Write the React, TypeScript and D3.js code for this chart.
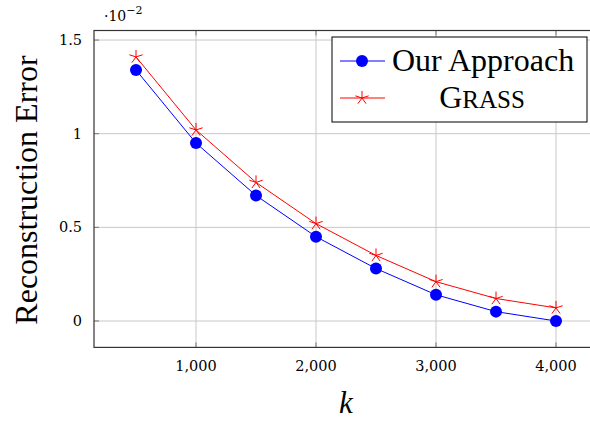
import React, { useEffect, useRef } from 'react';
import * as d3 from 'd3';

const kValues = [500, 1000, 1500, 2000, 2500, 3000, 3500, 4000];
const oursError = [1.34, 0.95, 0.67, 0.45, 0.28, 0.14, 0.05, 0.0];
const grassError = [1.41, 1.02, 0.74, 0.52, 0.35, 0.21, 0.12, 0.07];
const xTicks = [1000, 2000, 3000, 4000];
const yTicks = [0, 0.5, 1, 1.5];
const yTickLabels = ['0', '0.5', '1', '1.5'];

const width = 590;
const height = 421;
const serif = '"Liberation Serif", "DejaVu Serif", serif';
const tickFont = '"DejaVu Serif", serif';

const App = () => {
    const ref = useRef<SVGSVGElement>(null);

    useEffect(() => {
        const svg = d3.select(ref.current);
        svg.selectAll('*').remove();

        const left = 94, right = 598, top = 30.5, bottom = 347.4;

        const x = d3.scaleLinear().domain([150, 4350]).range([left, right]);
        const y = d3.scaleLinear().domain([-0.141, 1.551]).range([bottom, top]);

        // grid
        const grid = svg.append('g').attr('stroke', '#c8c8c8').attr('stroke-width', 1);
        xTicks.forEach(t => {
            grid.append('line').attr('x1', x(t)).attr('x2', x(t)).attr('y1', top).attr('y2', bottom);
        });
        yTicks.forEach(t => {
            grid.append('line').attr('x1', left).attr('x2', right).attr('y1', y(t)).attr('y2', y(t));
        });

        // tick marks
        const ticks = svg.append('g').attr('stroke', '#777').attr('stroke-width', 1);
        xTicks.forEach(t => {
            ticks.append('line').attr('x1', x(t)).attr('x2', x(t)).attr('y1', bottom).attr('y2', bottom - 5);
            ticks.append('line').attr('x1', x(t)).attr('x2', x(t)).attr('y1', top).attr('y2', top + 5);
        });
        yTicks.forEach(t => {
            ticks.append('line').attr('x1', left).attr('x2', left + 5).attr('y1', y(t)).attr('y2', y(t));
        });

        // frame
        svg.append('rect')
            .attr('x', left).attr('y', top)
            .attr('width', right - left).attr('height', bottom - top)
            .attr('fill', 'none').attr('stroke', '#333').attr('stroke-width', 1.2);

        // tick labels
        const fmt = d3.format(',');
        svg.append('g').selectAll('text').data(xTicks).enter().append('text')
            .attr('x', d => x(d)).attr('y', bottom + 24)
            .attr('text-anchor', 'middle')
            .style('font-family', tickFont).style('font-size', '14.5px')
            .text(d => fmt(d));
        svg.append('g').selectAll('text').data(yTicks).enter().append('text')
            .attr('x', left - 12).attr('y', d => y(d) + 5)
            .attr('text-anchor', 'end')
            .style('font-family', tickFont).style('font-size', '14.5px')
            .text((d, i) => yTickLabels[i]);

        // scale note
        const note = svg.append('text').attr('x', 104).attr('y', 21)
            .style('font-family', tickFont).style('font-size', '14px');
        note.append('tspan').text('\u00b710');
        note.append('tspan').attr('dy', -7).style('font-size', '11px').text('\u22122');

        // axis labels
        svg.append('text')
            .attr('transform', `translate(37, 190) rotate(-90)`)
            .attr('text-anchor', 'middle')
            .style('font-family', serif).style('font-size', '32px')
            .text('Reconstruction Error');
        svg.append('text')
            .attr('x', x(2250)).attr('y', 413)
            .attr('text-anchor', 'middle')
            .style('font-family', serif).style('font-size', '31px').style('font-style', 'italic')
            .text('k');

        const line = d3.line<number>().x((d, i) => x(kValues[i])).y(d => y(d));

        const starPath = (r: number) => {
            let p = '';
            for (let i = 0; i < 5; i++) {
                const a = -Math.PI / 2 + i * 2 * Math.PI / 5;
                p += `M0,0L${r * Math.cos(a)},${r * Math.sin(a)}`;
            }
            return p;
        };

        // GRASS
        svg.append('path').attr('d', line(grassError))
            .attr('fill', 'none').attr('stroke', 'red').attr('stroke-width', 1);
        svg.append('g').selectAll('path').data(grassError).enter().append('path')
            .attr('transform', (d, i) => `translate(${x(kValues[i])},${y(d)})`)
            .attr('d', starPath(7))
            .attr('fill', 'none').attr('stroke', 'red').attr('stroke-width', 1);

        // Ours
        svg.append('path').attr('d', line(oursError))
            .attr('fill', 'none').attr('stroke', 'blue').attr('stroke-width', 1);
        svg.append('g').selectAll('circle').data(oursError).enter().append('circle')
            .attr('cx', (d, i) => x(kValues[i])).attr('cy', d => y(d))
            .attr('r', 6).attr('fill', 'blue');

        // legend
        const lg = svg.append('g');
        lg.append('rect').attr('x', 332).attr('y', 37).attr('width', 255).attr('height', 85)
            .attr('fill', 'white').attr('stroke', 'black').attr('stroke-width', 1);
        lg.append('line').attr('x1', 340).attr('x2', 385).attr('y1', 61).attr('y2', 61)
            .attr('stroke', 'blue').attr('stroke-width', 1);
        lg.append('circle').attr('cx', 362).attr('cy', 61).attr('r', 6).attr('fill', 'blue');
        lg.append('line').attr('x1', 340).attr('x2', 385).attr('y1', 98).attr('y2', 98)
            .attr('stroke', 'red').attr('stroke-width', 1);
        lg.append('path').attr('transform', 'translate(362,98)').attr('d', starPath(7))
            .attr('fill', 'none').attr('stroke', 'red').attr('stroke-width', 1);
        lg.append('text').attr('x', 392).attr('y', 71)
            .style('font-family', serif).style('font-size', '32px')
            .text('Our Approach');
        const gt = lg.append('text').attr('x', 482).attr('y', 108)
            .attr('text-anchor', 'middle')
            .style('font-family', serif).style('font-size', '32px');
        gt.append('tspan').text('G');
        gt.append('tspan').style('font-size', '25px').text('RASS');
    }, []);

    return (
        <svg ref={ref} width={width} height={height}
            style={{ position: 'absolute', left: 0, top: 0, background: 'white' }} />
    );
};

export default App;
